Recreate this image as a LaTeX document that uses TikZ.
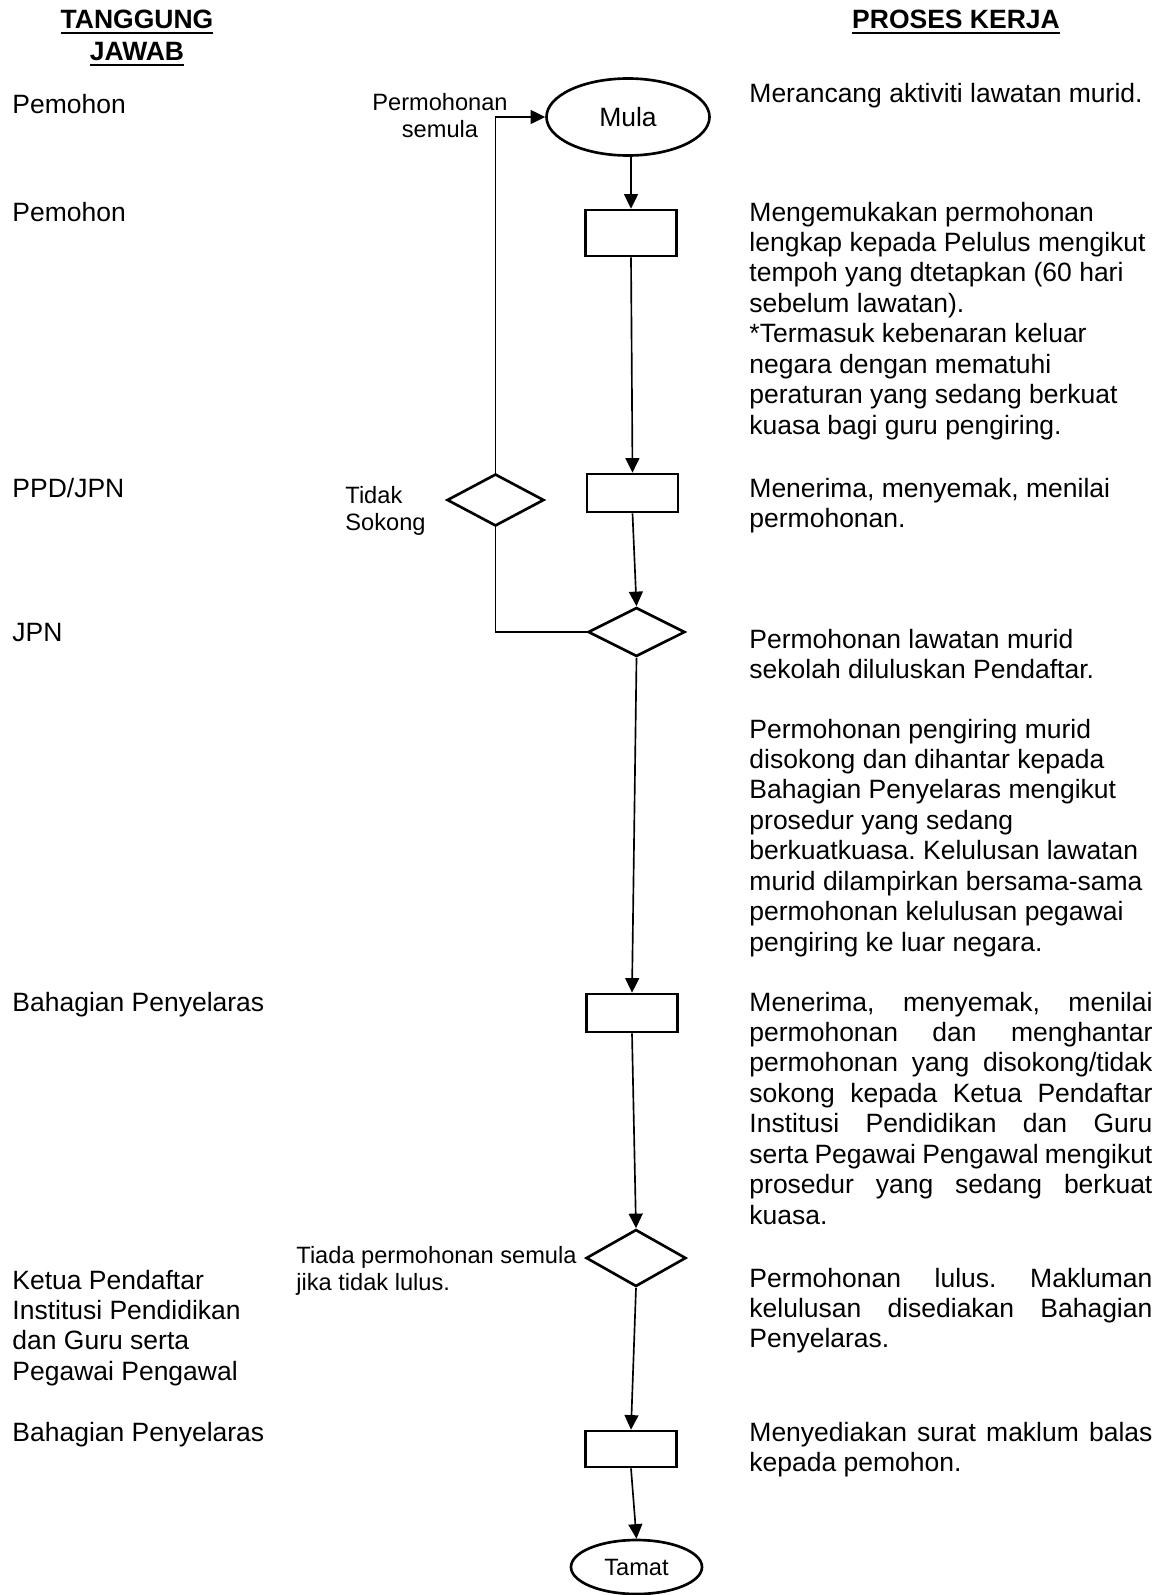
\documentclass[tikz,border=0pt]{standalone}
\usepackage{fontspec}
\setmainfont{Liberation Sans}
\usetikzlibrary{shapes.geometric,arrows.meta}
\frenchspacing
\newlength\pu
\setlength\pu{0.453pt}
\newcommand\jl[1]{\makebox[\linewidth][s]{#1}}
\newcommand\myul[1]{\leavevmode\setbox0\hbox{#1}\rlap{\rule[-2.8pt]{\wd0}{1.2pt}}\box0}
\begin{document}
\begin{tikzpicture}[x=0.453pt,y=-0.453pt,
  fc/.style={draw, line width=1.2pt, inner sep=0pt, fill=white, font=\fontsize{12}{13.8}\selectfont},
  box/.style={fc, rectangle, minimum width=91\pu, minimum height=38\pu},
  dec/.style={fc, diamond, minimum width=97\pu, minimum height=50\pu},
  term/.style={fc, ellipse},
  conn/.style={line width=0.75pt},
  arr/.style={conn, -{Triangle[length=6.6pt,width=6.3pt]}},
  txt/.style={inner sep=0pt, anchor=base west, font=\fontsize{12}{13.8}\selectfont},
  head/.style={inner sep=0pt, anchor=base, font=\fontsize{12}{13.8}\selectfont\bfseries},
  small/.style={inner sep=0pt, anchor=base west, font=\fontsize{10.7}{12.5}\selectfont}]
\useasboundingbox (0,0) rectangle (1159,1595);

% headings
\node[head] (h1) at (137,28) {\myul{TANGGUNG}};
\node[head] (h2) at (137,60) {\myul{JAWAB}};
\node[head] (h3) at (956,28) {\myul{PROSES KERJA}};

% left column
\node[txt] (p1) at (12,113) {Pemohon};
\node[txt] (p2) at (12,221) {Pemohon};
\node[txt] (p3) at (12,497) {PPD/JPN};
\node[txt] (p4) at (12,641) {JPN};
\node[txt] (p5) at (12,1011) {Bahagian Penyelaras};
\node[txt] (p6) at (12,1289) {\parbox[t]{330\pu}{Ketua Pendaftar\\Institusi Pendidikan\\dan Guru serta\\Pegawai Pengawal}};
\node[txt] (p7) at (12,1441) {Bahagian Penyelaras};

% right column
\node[txt] (r1) at (749,102) {Merancang aktiviti lawatan murid.};
\node[txt] (r2) at (749,221) {\parbox[t]{403\pu}{Mengemukakan permohonan\\lengkap kepada Pelulus mengikut\\tempoh yang dtetapkan (60 hari\\sebelum lawatan).\\{*}Termasuk kebenaran keluar\\negara dengan mematuhi\\peraturan yang sedang berkuat\\kuasa bagi guru pengiring.}};
\node[txt] (r3) at (749,497) {\parbox[t]{403\pu}{Menerima, menyemak, menilai\\permohonan.}};
\node[txt] (r4) at (749,648) {\parbox[t]{403\pu}{Permohonan lawatan murid\\sekolah diluluskan Pendaftar.}};
\node[txt] (r5) at (749,738) {\parbox[t]{403\pu}{Permohonan pengiring murid\\disokong dan dihantar kepada\\Bahagian Penyelaras mengikut\\prosedur yang sedang\\berkuatkuasa. Kelulusan lawatan\\murid dilampirkan bersama-sama\\permohonan kelulusan pegawai\\pengiring ke luar negara.}};
\node[txt] (r6) at (749,1011) {\parbox[t]{403\pu}{\jl{Menerima, menyemak, menilai}\\\jl{permohonan dan menghantar}\\\jl{permohonan yang disokong/tidak}\\\jl{sokong kepada Ketua Pendaftar}\\\jl{Institusi Pendidikan dan Guru}\\\jl{serta Pegawai Pengawal mengikut}\\\jl{prosedur yang sedang berkuat}\\kuasa.}};
\node[txt] (r7) at (749,1287) {\parbox[t]{403\pu}{\jl{Permohonan lulus. Makluman}\\\jl{kelulusan disediakan Bahagian}\\Penyelaras.}};
\node[txt] (r8) at (749,1441) {\parbox[t]{403\pu}{\jl{Menyediakan surat maklum balas}\\kepada pemohon.}};

% flowchart shapes
\node[term, minimum width=163\pu, minimum height=77\pu] (mula) at (628,117) {Mula};
\node[box, minimum height=46\pu] (b1) at (631,233) {};
\node[box] (b2) at (632.5,493) {};
\node[dec, minimum height=52\pu] (d1) at (495.5,500) {};
\node[dec, minimum height=49\pu] (d2) at (636.5,632) {};
\node[box] (b3) at (632,1013) {};
\node[dec, minimum width=100\pu, minimum height=57\pu] (d3) at (636,1258) {};
\node[box, minimum height=36\pu] (b4) at (631,1449) {};
\node[term, minimum width=131\pu, minimum height=54\pu, font=\fontsize{10.7}{12.5}\selectfont] (tamat) at (636.5,1567) {Tamat};

% labels
\node[small, anchor=base] (l1) at (440,110) {\parbox[t]{160\pu}{\centering Permohonan\\semula}};
\node[small] (l2) at (345,503) {\parbox[t]{120\pu}{Tidak\\Sokong}};
\node[small] (l3) at (296,1263) {\parbox[t]{290\pu}{Tiada permohonan semula\\jika tidak lulus.}};

% connectors
\draw[arr] (b1.north |- mula.south) -- (b1.north);
\draw[arr] (b1.south) -- (b2.north);
\draw[arr] (b2.south) -- (d2.north);
\draw[conn] (d2.west) -| (d1.south);
\draw[arr] (d1.north) |- (mula.west);
\draw[arr] (d2.south) -- (b3.north);
\draw[arr] (b3.south) -- (d3.north);
\draw[arr] (d3.south) -- (b4.north);
\draw[arr] (b4.south) -- (tamat.north);
\end{tikzpicture}
\end{document}
